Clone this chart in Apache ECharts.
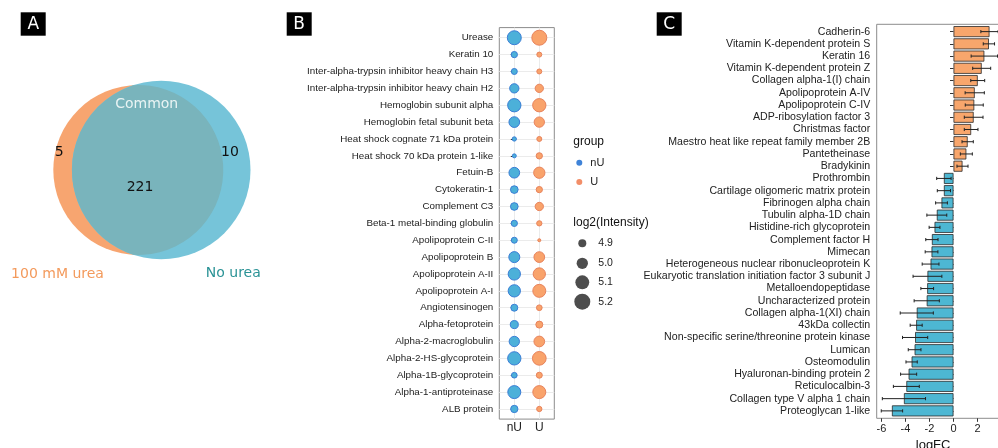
<!DOCTYPE html>
<html><head><meta charset="utf-8">
<script src="https://cdn.jsdelivr.net/npm/echarts@6/dist/echarts.min.js"></script>
<style>html,body{margin:0;padding:0;background:#fff}#c{width:998px;height:448px}</style>
</head><body><div id="c"></div>
<script>
// ---------- Panel A (Venn) ----------
const vennSets = ['100 mM urea', 'No urea'];
const vennCounts = [5, 221, 10];           // only 100 mM urea, common, only no urea
const vennCommonLabel = 'Common';

// ---------- Panel B (dot plot) ----------
const bProteins = [
  'Urease', 'Keratin 10', 'Inter-alpha-trypsin inhibitor heavy chain H3',
  'Inter-alpha-trypsin inhibitor heavy chain H2', 'Hemoglobin subunit alpha',
  'Hemoglobin fetal subunit beta', 'Heat shock cognate 71 kDa protein',
  'Heat shock 70 kDa protein 1-like', 'Fetuin-B', 'Cytokeratin-1', 'Complement C3',
  'Beta-1 metal-binding globulin', 'Apolipoprotein C-II', 'Apolipoprotein B',
  'Apolipoprotein A-II', 'Apolipoprotein A-I', 'Angiotensinogen', 'Alpha-fetoprotein',
  'Alpha-2-macroglobulin', 'Alpha-2-HS-glycoprotein', 'Alpha-1B-glycoprotein',
  'Alpha-1-antiproteinase', 'ALB protein'
];
const bGroups = ['nU', 'U'];
const bIntensityNU = [5.15, 4.883, 4.877, 4.966, 5.12, 5.014, 4.844, 4.839, 5.014, 4.918, 4.918, 4.883,
  4.877, 5.025, 5.076, 5.076, 4.9, 4.927, 5.0, 5.12, 4.87, 5.106, 4.908];
const bIntensityU = [5.2, 4.856, 4.856, 4.935, 5.12, 5.0, 4.856, 4.883, 5.036, 4.883, 4.935, 4.862,
  4.825, 5.014, 5.076, 5.106, 4.87, 4.9, 5.014, 5.138, 4.877, 5.106, 4.862];
const bSizeLegend = [4.9, 5.0, 5.1, 5.2];

// ---------- Panel C (logFC bars) ----------
const cProteins = [
  'Cadherin-6', 'Vitamin K-dependent protein S', 'Keratin 16', 'Vitamin K-dependent protein Z',
  'Collagen alpha-1(I) chain', 'Apolipoprotein A-IV', 'Apolipoprotein C-IV',
  'ADP-ribosylation factor 3', 'Christmas factor', 'Maestro heat like repeat family member 2B',
  'Pantetheinase', 'Bradykinin', 'Prothrombin', 'Cartilage oligomeric matrix protein',
  'Fibrinogen alpha chain', 'Tubulin alpha-1D chain', 'Histidine-rich glycoprotein',
  'Complement factor H', 'Mimecan', 'Heterogeneous nuclear ribonucleoprotein K',
  'Eukaryotic translation initiation factor 3 subunit J', 'Metalloendopeptidase',
  'Uncharacterized protein', 'Collagen alpha-1(XI) chain', '43kDa collectin',
  'Non-specific serine/threonine protein kinase', 'Lumican', 'Osteomodulin',
  'Hyaluronan-binding protein 2', 'Reticulocalbin-3', 'Collagen type V alpha 1 chain',
  'Proteoglycan 1-like'
];
const cLogFC = [3.0, 2.95, 2.57, 2.35, 2.02, 1.77, 1.73, 1.68, 1.47, 1.18, 1.07, 0.75,
  -0.8, -0.8, -1.0, -1.39, -1.58, -1.8, -1.83, -1.91, -2.17, -2.19, -2.23, -3.06,
  -3.11, -3.2, -3.24, -3.49, -3.74, -3.93, -4.13, -5.13];
const cSE = [0.72, 0.47, 1.1, 0.75, 0.58, 0.8, 0.75, 0.78, 0.57, 0.47, 0.5, 0.46,
  0.6, 0.55, 0.49, 0.83, 0.45, 0.51, 0.53, 0.7, 1.2, 0.53, 1.05, 1.38,
  0.5, 1.05, 0.53, 0.47, 0.67, 1.08, 1.8, 0.89];
const cTicks = [-6, -4, -2, 0, 2];

// ---------- styles ----------
const SANS = '"Liberation Sans", Arial, sans-serif';
const VENN_FONT = '"DejaVu Sans", Verdana, sans-serif';
const ORANGE = '#F7A570', BLUE = '#76C4D9', OVERLAP = '#79B4BC';
const BAR_OR = '#F8A66C', BAR_BL = '#4DB7D3';

// area-linear size scale for log2(Intensity) -> diameter (px)
function bSize(v) { return Math.sqrt(Math.max(4, 64 + (v - 4.9) * 640)); }

const chart = echarts.init(document.getElementById('c'), null, {renderer: 'canvas'});

function panelLabel(x, letter) {
  return {type: 'group', z: 100, children: [
    {type: 'rect', z: 100, shape: {x: x, y: 12.3, width: 25, height: 23.4}, style: {fill: '#000'}},
    {type: 'text', z: 101, x: x + 12.5, y: 24.3, style: {text: letter, fill: '#fff', font: '17px ' + VENN_FONT,
      align: 'center', verticalAlign: 'middle', textAlign: 'center', textVerticalAlign: 'middle'}}
  ]};
}
function txt(x, y, s, font, fill, align) {
  return {type: 'text', z: 100, x: x, y: y, style: {text: s, font: font, fill: fill,
    align: align || 'center', verticalAlign: 'middle', textAlign: align || 'center', textVerticalAlign: 'middle'}};
}

const sizeLegendY = [243.3, 263.3, 282.3, 301.7];
const graphics = [
  panelLabel(20.7, 'A'), panelLabel(286.7, 'B'), panelLabel(656.7, 'C'),
  txt(146.7, 104, vennCommonLabel, '14px ' + VENN_FONT, '#EAF4F4'),
  txt(59.3, 152.7, String(vennCounts[0]), '14px ' + VENN_FONT, '#111'),
  txt(140, 187, String(vennCounts[1]), '14px ' + VENN_FONT, '#111'),
  txt(230, 152.7, String(vennCounts[2]), '14px ' + VENN_FONT, '#111'),
  txt(57.5, 274, vennSets[0], '14px ' + VENN_FONT, '#F39A5C'),
  txt(233.3, 273, vennSets[1], '14px ' + VENN_FONT, '#2B9396'),
  txt(573.3, 141.7, 'group', '12px ' + SANS, '#111', 'left'),
  txt(573.3, 222.7, 'log2(Intensity)', '12px ' + SANS, '#111', 'left')
];
bSizeLegend.forEach((v, i) => {
  graphics.push({type: 'circle', z: 100, shape: {cx: 582.3, cy: sizeLegendY[i], r: bSize(v) / 2}, style: {fill: '#4D4D4D'}});
  graphics.push(txt(598.3, sizeLegendY[i], v.toFixed(1), '10.5px ' + SANS, '#222', 'left'));
});

const bRowIdx = bProteins.map((_, i) => i);

const option = {
  animation: false,
  backgroundColor: '#fff',
  graphic: {elements: graphics},
  legend: {
    data: [
      {name: 'nU', icon: 'circle', itemStyle: {color: '#3F83D8', borderWidth: 0}},
      {name: 'U', icon: 'circle', itemStyle: {color: '#F28E68', borderWidth: 0}}
    ],
    orient: 'vertical', left: 576.3, top: 156.7, padding: 0,
    itemWidth: 12, itemHeight: 6, itemGap: 7.3, selectedMode: false,
    textStyle: {fontSize: 11, fontFamily: SANS, color: '#222', lineHeight: 12}
  },
  grid: [
    {left: 0, top: 0, width: 280, height: 448, outerBoundsMode: 'none'},          // A
    {left: 499.3, top: 27.6, width: 55, height: 391.5, show: true, outerBoundsMode: 'none',
      borderColor: '#8c8c8c', borderWidth: 1, backgroundColor: 'transparent'},      // B
    {left: 876.7, top: 24.3, width: 124.8, height: 394, show: true, outerBoundsMode: 'none',
      borderColor: '#8c8c8c', borderWidth: 1, backgroundColor: 'transparent'},      // C frame
    {left: 876.7, top: 25.5, width: 124.8, height: 391.5, outerBoundsMode: 'none'} // C data
  ],
  xAxis: [
    {gridIndex: 0, type: 'value', min: 0, max: 280, show: false},
    {gridIndex: 1, type: 'value', min: -0.6, max: 1.6,
      axisLine: {show: false},
      axisTick: {show: true, customValues: [0, 1], length: 3, lineStyle: {color: '#333'}},
      axisLabel: {customValues: [0, 1], formatter: v => bGroups[Math.round(v)], fontSize: 12,
        fontFamily: SANS, color: '#222', margin: 3},
      splitLine: {show: true, lineStyle: {color: '#EBEBEB', width: 1}}},
    {gridIndex: 2, type: 'value', min: -6.4, max: 4,
      axisLine: {show: false},
      axisTick: {show: true, customValues: cTicks, length: 3.5, lineStyle: {color: '#333'}},
      axisLabel: {customValues: cTicks, fontSize: 11, fontFamily: SANS, color: '#222', margin: 5},
      splitLine: {show: false},
      name: 'logFC', nameLocation: 'middle', nameGap: 19,
      nameTextStyle: {fontSize: 13, fontFamily: SANS, color: '#111', padding: [0, 12, 0, 0]}},
    {gridIndex: 3, type: 'value', min: -6.4, max: 4, show: false}
  ],
  yAxis: [
    {gridIndex: 0, type: 'value', min: 0, max: 448, inverse: true, show: false},
    {gridIndex: 1, type: 'value', min: -0.6, max: 22.6, inverse: true,
      axisLine: {show: false},
      axisTick: {show: true, customValues: bRowIdx, length: 3.5, lineStyle: {color: '#333'}},
      axisLabel: {customValues: bRowIdx, formatter: v => bProteins[Math.round(v)], fontSize: 9.8,
        fontFamily: SANS, color: '#222', margin: 6},
      splitLine: {show: true, lineStyle: {color: '#EBEBEB', width: 1}}},
    {gridIndex: 2, type: 'value', min: 0, max: 1, show: false},
    {gridIndex: 3, type: 'category', data: cProteins, inverse: true,
      axisLine: {show: false},
      axisTick: {show: true, alignWithLabel: true, interval: 0, length: 3.5, lineStyle: {color: '#333'}},
      axisLabel: {interval: 0, fontSize: 10.6, fontFamily: SANS, color: '#222', margin: 6.5},
      splitLine: {show: false}}
  ],
  series: [
    {
      type: 'custom', name: 'venn', xAxisIndex: 0, yAxisIndex: 0, silent: true, z: 1,
      data: [[138.3, 170, 85, 161.2, 170, 89.3]],
      renderItem: function (params, api) {
        const o = api.coord([api.value(0), api.value(1)]);
        const ro = api.size([api.value(2), 0])[0];
        const b = api.coord([api.value(3), api.value(4)]);
        const rb = api.size([api.value(5), 0])[0];
        const dx = b[0] - o[0], dy = b[1] - o[1], d = Math.hypot(dx, dy);
        const a = (d * d + ro * ro - rb * rb) / (2 * d);
        const h = Math.sqrt(ro * ro - a * a);
        const px = o[0] + a * dx / d, py = o[1] + a * dy / d;
        const p1 = [px + h * dy / d, py - h * dx / d];
        const p2 = [px - h * dy / d, py + h * dx / d];
        const largeO = a < 0 ? 1 : 0, largeB = (d - a) < 0 ? 1 : 0;
        const lens = 'M' + p1[0] + ' ' + p1[1] + ' A' + ro + ' ' + ro + ' 0 ' + largeO + ' 1 ' + p2[0] + ' ' + p2[1] +
          ' A' + rb + ' ' + rb + ' 0 ' + largeB + ' 1 ' + p1[0] + ' ' + p1[1] + ' Z';
        return {type: 'group', children: [
          {type: 'circle', shape: {cx: o[0], cy: o[1], r: ro}, style: {fill: ORANGE}},
          {type: 'circle', shape: {cx: b[0], cy: b[1], r: rb}, style: {fill: BLUE}},
          {type: 'path', shape: {pathData: lens}, style: {fill: OVERLAP}}
        ]};
      }
    },
    {
      type: 'scatter', name: 'nU', xAxisIndex: 1, yAxisIndex: 1,
      data: bIntensityNU.map((v, i) => [0, i, v]),
      symbolSize: val => Math.max(1, bSize(val[2]) - 1),
      itemStyle: {color: '#4CB0D9', borderColor: '#3A7DD6', borderWidth: 1, opacity: 1}
    },
    {
      type: 'scatter', name: 'U', xAxisIndex: 1, yAxisIndex: 1,
      data: bIntensityU.map((v, i) => [1, i, v]),
      symbolSize: val => Math.max(1, bSize(val[2]) - 1),
      itemStyle: {color: '#F9A36B', borderColor: '#E8835C', borderWidth: 1, opacity: 1}
    },
    {
      type: 'bar', name: 'logFC', xAxisIndex: 3, yAxisIndex: 3, barCategoryGap: '10%',
      data: cLogFC.map(v => ({value: v, itemStyle: {color: v > 0 ? BAR_OR : BAR_BL}})),
      itemStyle: {borderColor: '#2a2a2a', borderWidth: 0.8}
    },
    {
      type: 'custom', name: 'se', xAxisIndex: 3, yAxisIndex: 3, z: 5,
      data: cLogFC.map((v, i) => [i, v - cSE[i], v + cSE[i]]),
      encode: {y: 0, x: [1, 2]},
      renderItem: function (params, api) {
        const yi = api.value(0);
        const lo = api.coord([api.value(1), yi]);
        const hi = api.coord([api.value(2), yi]);
        const cap = 1.6;
        const st = {stroke: '#222', lineWidth: 1};
        return {type: 'group', children: [
          {type: 'line', shape: {x1: lo[0], y1: lo[1], x2: hi[0], y2: hi[1]}, style: st},
          {type: 'line', shape: {x1: lo[0], y1: lo[1] - cap, x2: lo[0], y2: lo[1] + cap}, style: st},
          {type: 'line', shape: {x1: hi[0], y1: hi[1] - cap, x2: hi[0], y2: hi[1] + cap}, style: st}
        ]};
      }
    }
  ]
};
chart.setOption(option);
</script>
</body></html>
